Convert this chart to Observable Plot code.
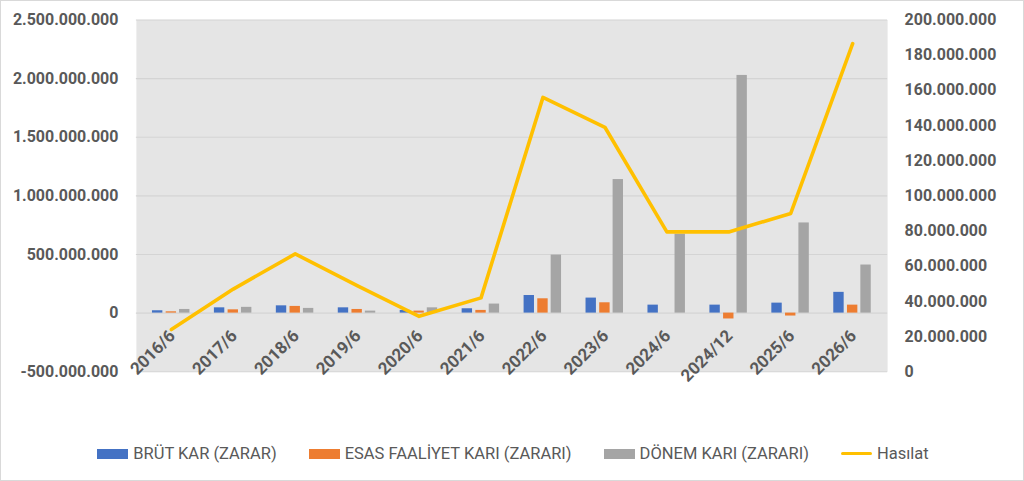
<!DOCTYPE html>
<html>
<head>
<meta charset="utf-8">
<script src="https://cdn.jsdelivr.net/npm/d3@7"></script>
<script src="https://cdn.jsdelivr.net/npm/@observablehq/plot@0.6"></script>
<style>
  html, body { margin: 0; padding: 0; background: #fff; }
  #wrap { position: relative; width: 1024px; height: 481px; box-sizing: border-box; border: 1px solid #d9d9d9; overflow: hidden; font-family: Roboto, "Noto Sans", sans-serif; }
  #chart { position: absolute; left: -1px; top: -1px; }
  #legend { position: absolute; left: 0; top: 443px; width: 1024px; display: flex; justify-content: center; align-items: center; gap: 32px; font-size: 16.5px; color: #595959; }
  .item { display: flex; align-items: center; gap: 5px; }
  .sw { width: 31px; height: 10px; }
  .ln { width: 31px; height: 3.5px; border-radius: 2px; }
</style>
</head>
<body>
<div id="wrap">
  <div id="chart"></div>
  <div id="legend"></div>
</div>
<script>
const categories = ["2016/6","2017/6","2018/6","2019/6","2020/6","2021/6","2022/6","2023/6","2024/6","2024/12","2025/6","2026/6"];
const brutKar   = [20e6, 45e6, 62e6, 45e6, 23e6, 37e6, 150e6, 128e6, 68e6, 68e6, 85e6, 177e6];
const esasKar   = [11e6, 28e6, 57e6, 31e6, 17e6, 23e6, 122e6, 88e6, 0, -50e6, -25e6, 68e6];
const donemKar  = [31e6, 49e6, 40e6, 17e6, 45e6, 77e6, 495e6, 1139e6, 673e6, 2027e6, 769e6, 410e6];
const hasilat   = [24e6, 47e6, 67e6, 49e6, 31.5e6, 42e6, 156e6, 139e6, 79.5e6, 79.5e6, 90e6, 186.5e6];
const leftTicks  = [-500e6, 0, 500e6, 1000e6, 1500e6, 2000e6, 2500e6];
const rightTicks = [0, 20e6, 40e6, 60e6, 80e6, 100e6, 120e6, 140e6, 160e6, 180e6, 200e6];
const seriesNames = ["BRÜT KAR (ZARAR)", "ESAS FAALİYET KARI (ZARARI)", "DÖNEM KARI (ZARARI)", "Hasılat"];
const colors = ["#4472C4", "#ED7D31", "#A5A5A5", "#FFC000"];

const leftDomain = [-500e6, 2500e6];
const rightDomain = [0, 200e6];
const toLeft = v => leftDomain[0] + (v - rightDomain[0]) / (rightDomain[1] - rightDomain[0]) * (leftDomain[1] - leftDomain[0]);
const fromLeft = v => rightDomain[0] + (v - leftDomain[0]) / (leftDomain[1] - leftDomain[0]) * (rightDomain[1] - rightDomain[0]);

const fmt = d3.formatLocale({decimal: ",", thousands: ".", grouping: [3], currency: ["", ""], minus: "-"}).format(",d");

const rows = categories.map((c, i) => ({cat: c, brut: brutKar[i], esas: esasKar[i], donem: donemKar[i], hasilat: hasilat[i]}));

const font = "Roboto, 'Noto Sans', sans-serif";
const txt = "#595959";
const barOpts = {insetLeft: 25.8, insetRight: 25.8};

const chart = Plot.plot({
  width: 1024,
  height: 420,
  marginLeft: 136,
  marginRight: 136,
  marginTop: 19.5,
  marginBottom: 48.4,
  style: {fontFamily: font, background: "transparent"},
  x: {type: "band", domain: categories, padding: 0, axis: null},
  y: {domain: leftDomain, axis: null},
  marks: [
    Plot.frame({fill: "#e5e5e5", stroke: null}),
    Plot.gridY(leftTicks, {stroke: "#d4d4d4", strokeOpacity: 1, strokeWidth: 1.2}),
    Plot.barY(rows, {x: "cat", y: "brut", fill: colors[0], dx: -13.7, ...barOpts}),
    Plot.barY(rows, {x: "cat", y: "esas", fill: colors[1], dx: 0, ...barOpts}),
    Plot.barY(rows, {x: "cat", y: "donem", fill: colors[2], dx: 13.4, ...barOpts}),
    Plot.line(rows, {x: "cat", y: d => toLeft(d.hasilat), stroke: colors[3], strokeWidth: 3.6, strokeLinejoin: "round", strokeLinecap: "round"}),
    Plot.axisY(leftTicks, {anchor: "left", tickSize: 0, tickPadding: 18, tickFormat: fmt, fontSize: 16, fontWeight: "bold", fill: txt}),
    Plot.axisY(rightTicks.map(toLeft), {anchor: "right", tickSize: 0, tickPadding: 17, tickFormat: d => fmt(Math.round(fromLeft(d))), fontSize: 16, fontWeight: "bold", fill: txt}),
    Plot.text(categories, {x: d => d, y: () => 0, text: d => d, rotate: -45, textAnchor: "end", dx: 1, dy: 20, fontSize: 17, fontWeight: "bold", fill: txt})
  ]
});
document.getElementById("chart").appendChild(chart);

const legend = document.getElementById("legend");
seriesNames.forEach((name, i) => {
  const item = document.createElement("div");
  item.className = "item";
  const sw = document.createElement("div");
  sw.className = i === 3 ? "ln" : "sw";
  sw.style.background = colors[i];
  const label = document.createElement("span");
  label.textContent = name;
  item.appendChild(sw);
  item.appendChild(label);
  legend.appendChild(item);
});
</script>
</body>
</html>
